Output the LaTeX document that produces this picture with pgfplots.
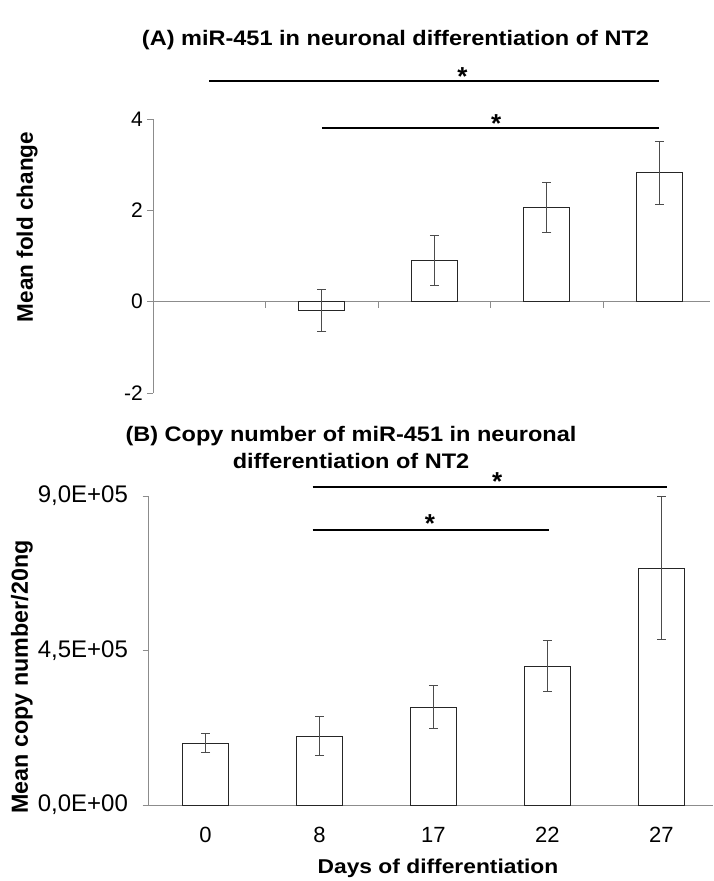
\documentclass[border=0pt]{standalone}
\usepackage{pgfplots}
\pgfplotsset{compat=1.18}
\usepackage{fontspec}
\setmainfont{Liberation Sans}
\begin{document}
\begin{tikzpicture}[x=1pt,y=1pt]
\path (0pt,0pt) rectangle (711pt,881pt);
\pgfplotsset{
  common/.style={
    scale only axis, clip=false,
    ybar, bar width=46pt,
    axis line style={black!45, line width=0.9pt},
    tick style={black!45, line width=0.9pt},
    major tick length=6pt, tick align=outside,
    /pgf/number format/assume math mode=true,
    ticklabel style={inner sep=1pt},
    xmin=-0.5, xmax=4.45,
  },
  barstyle/.style={draw=black!85, fill=white, line width=0.9pt,
    error bars/.cd, y dir=both, y explicit,
    error bar style={black!70, line width=0.9pt},
    error mark options={rotate=90, mark size=4.5pt, black!70, line width=0.9pt}},
}
% ---------- Panel A ----------
\begin{axis}[common,
  at={(153pt,488pt)}, anchor=south west,
  width=557pt, height=274pt,
  ymin=-2, ymax=4,
  axis x line*=middle, axis y line*=left,
  xtick={0.5,1.5,2.5,3.5}, xticklabels={},
  ytick={-2,0,2,4},
  yticklabel style={anchor=east, xshift=-3pt, font=\fontsize{21}{21}\selectfont},
]
\addplot[barstyle] coordinates {
  (1,-0.20) +- (0,0.46)
  (2,0.90)  +- (0,0.55)
  (3,2.07)  +- (0,0.55)
  (4,2.82)  +- (0,0.69)
};
\draw[black, line width=1.8pt] (axis cs:0,4.84) -- (axis cs:4,4.84);
\draw[black, line width=1.8pt] (axis cs:1,3.81) -- (axis cs:4,3.81);
\node[font=\bfseries\fontsize{26}{26}\selectfont] at (axis cs:2.25,4.92) {*};
\node[font=\bfseries\fontsize{26}{26}\selectfont] at (axis cs:2.55,3.9) {*};
\end{axis}
% ---------- Panel B ----------
\begin{axis}[common,
  at={(148.6pt,76pt)}, anchor=south west,
  width=564pt, height=309pt,
  ymin=0, ymax=900000,
  scaled y ticks=false,
  axis x line*=bottom, axis y line*=left,
  xtick={0,1,2,3,4}, xticklabels={0,8,17,22,27},
  x tick style={draw=none},
  xticklabel style={anchor=base, yshift=-31pt, font=\fontsize{22}{22}\selectfont},
  ytick={0,450000,900000},
  yticklabels={{0,0E+00},{4,5E+05},{9,0E+05}},
  yticklabel style={anchor=east, xshift=-13.5pt, font=\fontsize{24}{24}\selectfont},
]
\addplot[barstyle] coordinates {
  (0,180000) +- (0,28000)
  (1,201000) +- (0,58000)
  (2,285000) +- (0,63000)
  (3,405000) +- (0,73000)
  (4,690000) +- (0,208000)
};
\draw[black, line width=1.8pt] (axis cs:0.94,926000) -- (axis cs:4.05,926000);
\draw[black, line width=1.8pt] (axis cs:0.94,801000) -- (axis cs:3.01,801000);
\node[font=\bfseries\fontsize{26}{26}\selectfont] at (axis cs:2.56,942000) {*};
\node[font=\bfseries\fontsize{26}{26}\selectfont] at (axis cs:1.97,819000) {*};
\end{axis}
% ---------- Texts ----------
\node[xscale=1.12, font=\bfseries\fontsize{21}{21}\selectfont] at (395.5pt,841pt) {(A) miR-451 in neuronal differentiation of NT2};
\node[xscale=1.12, font=\bfseries\fontsize{21}{21}\selectfont] at (351pt,445pt) {(B) Copy number of miR-451 in neuronal};
\node[xscale=1.12, font=\bfseries\fontsize{21}{21}\selectfont] at (351pt,420pt) {differentiation of NT2};
\node[rotate=90, font=\bfseries\fontsize{22.5}{22.5}\selectfont] at (27pt,654pt) {Mean fold change};
\node[rotate=90, font=\bfseries\fontsize{23.3}{23.3}\selectfont] at (22pt,204pt) {Mean copy number/20ng};
\node[xscale=1.14, font=\bfseries\fontsize{20}{20}\selectfont] at (438pt,13pt) {Days of differentiation};
\end{tikzpicture}
\end{document}
